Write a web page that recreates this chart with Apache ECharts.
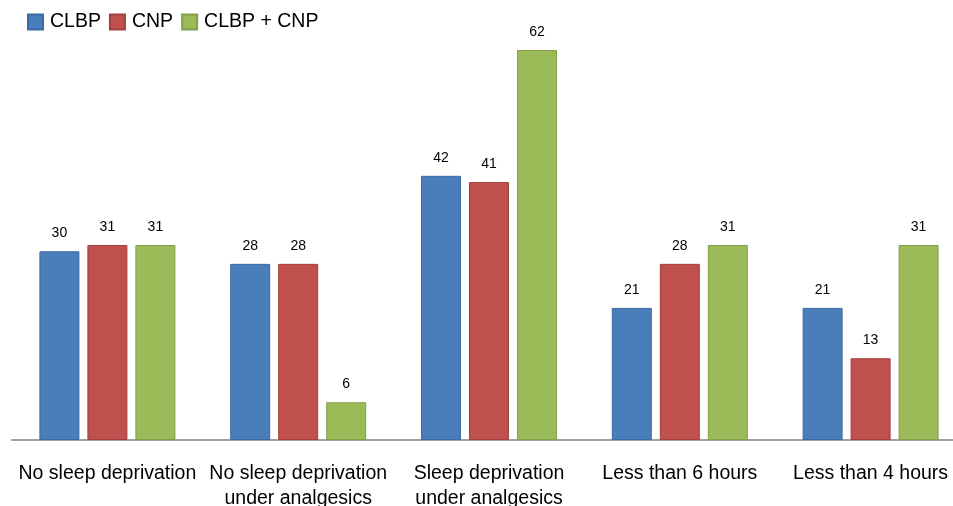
<!DOCTYPE html>
<html>
<head>
<meta charset="utf-8">
<script src="https://cdn.jsdelivr.net/npm/echarts@6/dist/echarts.min.js"></script>
<style>html,body{margin:0;padding:0;background:#fff;overflow:hidden}#c{width:953px;height:506px}</style>
</head>
<body>
<div id="c"></div>
<script>
const categories = ['No sleep deprivation', 'No sleep deprivation\nunder analgesics', 'Sleep deprivation\nunder analgesics', 'Less than 6 hours', 'Less than 4 hours'];
const seriesNames = ['CLBP', 'CNP', 'CLBP + CNP'];
const clbp = [30, 28, 42, 21, 21];
const cnp = [31, 28, 41, 28, 13];
const both = [31, 6, 62, 31, 31];

const fills = ['#4a7ebb', '#c0504d', '#9bbb59'];
const borders = ['#3b6aa3', '#a33f3c', '#82a04a'];
const data = [clbp, cnp, both];

const chart = echarts.init(document.getElementById('c'));
chart.setOption({
  animation: false,
  textStyle: { fontFamily: 'Liberation Sans, Arial, sans-serif' },
  legend: {
    left: 22, top: 7, itemWidth: 15, itemHeight: 15, itemGap: 8,
    icon: 'rect',
    textStyle: { fontSize: 19.5, color: '#000', padding: [0, 0, 0, 2] },
    data: seriesNames
  },
  grid: { left: 12, width: 954, top: 50, bottom: 66, containLabel: false, outerBoundsMode: 'none' },
  xAxis: {
    type: 'category', data: categories,
    axisLine: { lineStyle: { color: '#a0a0a0', width: 2 } },
    axisTick: { show: false },
    axisLabel: { fontSize: 19.5, color: '#000', lineHeight: 25, margin: 21, interval: 0 }
  },
  yAxis: { type: 'value', min: 0, max: 62, show: false, splitLine: { show: false } },
  series: seriesNames.map((n, i) => ({
    name: n, type: 'bar', data: data[i], barWidth: 40, barGap: '20%',
    itemStyle: { color: fills[i], borderColor: borders[i], borderWidth: 1 },
    label: { show: true, position: 'top', distance: 11, fontSize: 14, color: '#000' }
  }))
});
</script>
</body>
</html>
